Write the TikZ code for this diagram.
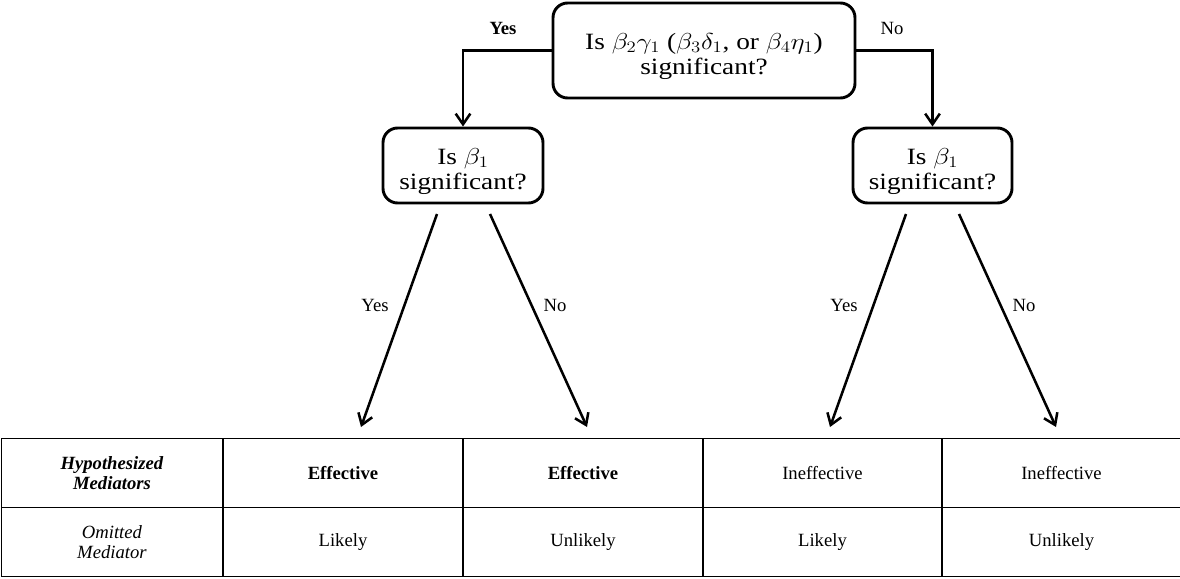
\documentclass[tikz,border=0pt]{standalone}
\usepackage{fontspec}
\setmainfont{Liberation Serif}
\usepackage{graphicx}
\usetikzlibrary{arrows.meta}
\newcommand{\wideline}[1]{\scalebox{1.17}[1]{#1}}
\newcommand{\toppad}{\rule{0pt}{21pt}}
\begin{document}
\begin{tikzpicture}[x=0.75pt,y=-0.75pt,
  qbox/.style={draw,line width=2.2pt,rounded corners=11pt,align=center,inner sep=0pt,font=\fontsize{17.5}{19}\selectfont},
  arr/.style={line width=1.9pt,-{Straight Barb[length=8pt,width=11pt,line width=1.9pt]}},
  lbl/.style={font=\fontsize{14}{16}\selectfont},
  cell/.style={draw,line width=1.2pt,minimum height=52pt,inner sep=0pt,align=center,font=\fontsize{14}{15.5}\selectfont}]
\useasboundingbox (0,0) rectangle (1180,578);
% question boxes
\node[qbox,minimum width=226.5pt,minimum height=71.25pt] (top) at (704,50.5) {\toppad\wideline{Is $\beta_2\gamma_1$ ($\beta_3\delta_1$, or $\beta_4\eta_1$)}\\\wideline{significant?}};
\node[qbox,minimum width=120pt,minimum height=56.25pt] (lbox) at (463,165.5) {\toppad\wideline{Is $\beta_1$}\\\wideline{significant?}};
\node[qbox,minimum width=119.25pt,minimum height=56.25pt] (rbox) at (932.5,165.5) {\toppad\wideline{Is $\beta_1$}\\\wideline{significant?}};
% branch connectors
\draw[arr] (top.west) -| (lbox.north);
\draw[arr] (top.east) -| (rbox.north);
\node[font=\fontsize{14}{16}\selectfont\bfseries] (yes0) at (503,28) {Yes};
\node[lbl] (no0) at (892,28) {No};
% diagonal arrows
\coordinate (ls1) at (437,214); \coordinate (le1) at (361,427);
\coordinate (ls2) at (490,214); \coordinate (le2) at (587,427);
\coordinate (rs1) at (906,214); \coordinate (re1) at (830,427);
\coordinate (rs2) at (959,214); \coordinate (re2) at (1056,427);
\draw[arr] (ls1) -- (le1);
\draw[arr] (ls2) -- (le2);
\draw[arr] (rs1) -- (re1);
\draw[arr] (rs2) -- (re2);
\node[lbl] (y1) at (375,305) {Yes};
\node[lbl] (n1) at (555,305) {No};
\node[lbl] (y2) at (844,305) {Yes};
\node[lbl] (n2) at (1024,305) {No};
% table
\node[cell,minimum width=166pt] (h1) at (112,473) {\textbf{\textit{Hypothesized}}\\\textbf{\textit{Mediators}}};
\node[cell,minimum width=180pt] (h2) at (343,473) {\textbf{Effective}};
\node[cell,minimum width=180pt] (h3) at (583,473) {\textbf{Effective}};
\node[cell,minimum width=179.25pt] (h4) at (822.5,473) {Ineffective};
\node[cell,minimum width=179.25pt] (h5) at (1061.5,473) {Ineffective};
\node[cell,minimum width=166pt] (o1) at (112,542) {\textit{Omitted}\\\textit{Mediator}};
\node[cell,minimum width=180pt] (o2) at (343,542) {Likely};
\node[cell,minimum width=180pt] (o3) at (583,542) {Unlikely};
\node[cell,minimum width=179.25pt] (o4) at (822.5,542) {Likely};
\node[cell,minimum width=179.25pt] (o5) at (1061.5,542) {Unlikely};
\end{tikzpicture}
\end{document}
